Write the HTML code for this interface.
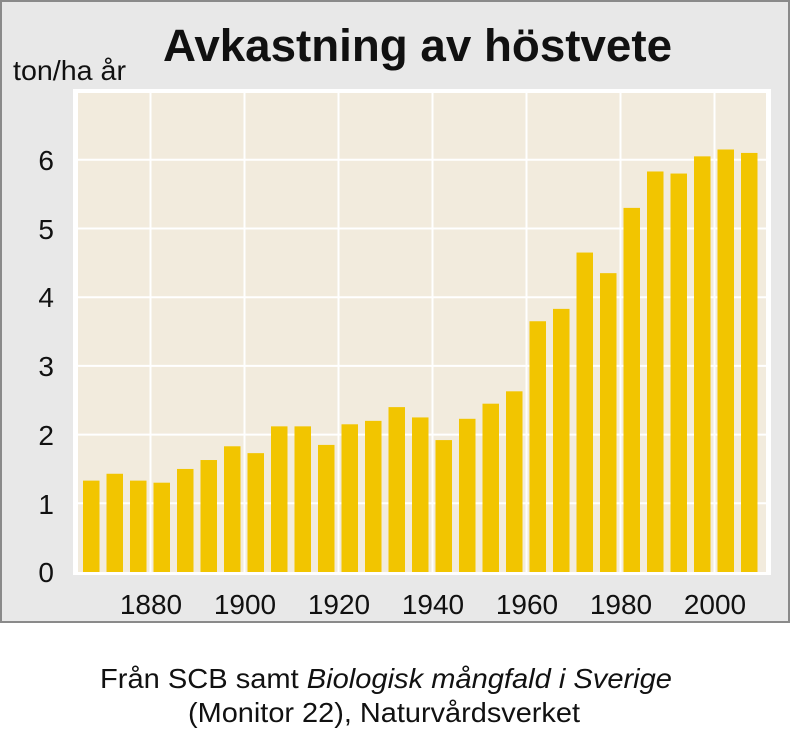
<!DOCTYPE html>
<html><head><style>
body{margin:0;background:#fff;width:792px;height:732px;position:relative;font-family:"Liberation Sans",sans-serif;}
</style></head><body>
<svg width="792" height="732" xmlns="http://www.w3.org/2000/svg" style="position:absolute;left:0;top:0">
<rect x="1" y="1" width="788" height="621" fill="#e8e8e8" stroke="#8a8a8a" stroke-width="2"/>
<text x="163" y="61" textLength="509" lengthAdjust="spacingAndGlyphs" font-family="Liberation Sans" font-weight="bold" font-size="45" fill="#111">Avkastning av höstvete</text>
<text x="13" y="80" textLength="113" lengthAdjust="spacingAndGlyphs" font-family="Liberation Sans" font-size="28" fill="#111">ton/ha år</text>
<rect x="73" y="89" width="698" height="486" fill="#fff"/>
<rect x="78" y="93" width="688" height="479" fill="#f2ebdd"/>
<g stroke="#fff" stroke-width="2">
<line x1="78" x2="766" y1="503.3" y2="503.3"/>
<line x1="78" x2="766" y1="434.6" y2="434.6"/>
<line x1="78" x2="766" y1="365.9" y2="365.9"/>
<line x1="78" x2="766" y1="297.2" y2="297.2"/>
<line x1="78" x2="766" y1="228.5" y2="228.5"/>
<line x1="78" x2="766" y1="159.8" y2="159.8"/>
<line y1="93" y2="572" x1="150.5" x2="150.5"/>
<line y1="93" y2="572" x1="244.5" x2="244.5"/>
<line y1="93" y2="572" x1="338.5" x2="338.5"/>
<line y1="93" y2="572" x1="432.5" x2="432.5"/>
<line y1="93" y2="572" x1="526.5" x2="526.5"/>
<line y1="93" y2="572" x1="620.5" x2="620.5"/>
<line y1="93" y2="572" x1="714.5" x2="714.5"/>
</g>
<g id="bars" fill="#f2c500"></g>
<g font-family="Liberation Sans" font-size="28" fill="#111" text-anchor="end">
<text x="54" y="582">0</text><text x="54" y="514">1</text><text x="54" y="445">2</text>
<text x="54" y="376">3</text><text x="54" y="307">4</text><text x="54" y="239">5</text><text x="54" y="170">6</text>
</g>
<g font-family="Liberation Sans" font-size="28" fill="#111" text-anchor="middle">
<text x="151" y="614">1880</text><text x="245" y="614">1900</text><text x="339" y="614">1920</text>
<text x="433" y="614">1940</text><text x="527" y="614">1960</text><text x="621" y="614">1980</text><text x="715" y="614">2000</text>
</g>
<text x="100" y="688" textLength="572" lengthAdjust="spacingAndGlyphs" font-family="Liberation Sans" font-size="28" fill="#111">Från SCB samt <tspan font-style="italic">Biologisk mångfald i Sverige</tspan></text>
<text x="188" y="722" textLength="392" lengthAdjust="spacingAndGlyphs" font-family="Liberation Sans" font-size="28" fill="#111">(Monitor 22), Naturvårdsverket</text>
</svg>
<script>
var v=[1.33,1.43,1.33,1.3,1.5,1.63,1.83,1.73,2.12,2.12,1.85,2.15,2.2,2.4,2.25,1.92,2.23,2.45,2.63,3.65,3.83,4.65,4.35,5.3,5.83,5.8,6.05,6.15,6.1];
var g=document.getElementById('bars'),s='';
v.forEach(function(d,i){var h=d*68.7;s+='<rect x="'+(83+i*23.5)+'" y="'+(572-h)+'" width="16.5" height="'+h+'"/>';});
g.innerHTML=s;
</script>
</body></html>
